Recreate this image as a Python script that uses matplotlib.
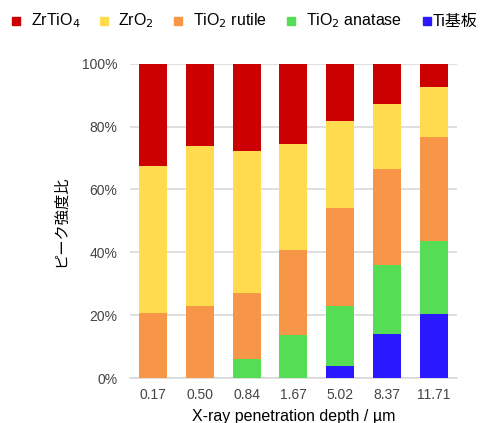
import matplotlib.pyplot as plt
from matplotlib.patches import Rectangle
import numpy as np

plt.rcParams['font.family'] = ['Liberation Sans', 'Noto Sans CJK JP', 'DejaVu Sans']

depths = ['0.17', '0.50', '0.84', '1.67', '5.02', '8.37', '11.71']
ti_sub = [0, 0, 0, 0, 3.9, 14.0, 20.4]
anatase = [0, 0, 6.2, 13.7, 19.1, 22.0, 23.2]
rutile = [20.6, 23.0, 21.0, 27.0, 31.1, 30.5, 33.0]
zro2 = [46.9, 50.7, 44.9, 33.9, 27.6, 20.6, 16.1]
zrtio4 = [32.5, 26.3, 27.9, 25.4, 18.3, 12.9, 7.3]

series = [
    ('ZrTiO$_4$', zrtio4, '#cc0000'),
    ('ZrO$_2$', zro2, '#ffdb4d'),
    ('TiO$_2$ rutile', rutile, '#f79646'),
    ('TiO$_2$ anatase', anatase, '#55dd55'),
    ('Ti基板', ti_sub, '#2a18ff'),
]

W, H = 485, 423
fig = plt.figure(figsize=(4.85, 4.23), dpi=100)
ax = fig.add_axes([0.268, 0.1057, 0.674, 0.744])

x = np.arange(len(depths))
bottom = np.zeros(len(depths))
# draw from the bottom of the stack upward
for name, vals, col in series[::-1]:
    vals = np.array(vals, dtype=float)
    ax.bar(x, vals, 0.6, bottom=bottom, color=col, zorder=3)
    bottom += vals

ax.set_xlim(-0.5, len(depths) - 0.5)
ax.set_ylim(0, 100)
ax.set_yticks(np.arange(0, 101, 20))
ax.set_yticklabels([f'{v}%' for v in range(0, 101, 20)])
ax.set_xticks(x)
ax.set_xticklabels(depths)
ax.yaxis.grid(True, color='#d9d9d9', lw=1.2, zorder=0)
for s in ['top', 'right', 'left']:
    ax.spines[s].set_visible(False)
ax.spines['bottom'].set_color('#d9d9d9')
ax.spines['bottom'].set_linewidth(1.2)
ax.tick_params(length=0, labelsize=10, colors='#444444', pad=7)
ax.tick_params(axis='y', pad=9)

ax.set_xlabel('X-ray penetration depth / µm', fontsize=11.5, labelpad=5)
ax.set_ylabel('ピーク強度比', fontsize=11, labelpad=10)

# legend row across the top, placed by hand (pixel positions)
sq_x = [12, 100, 174, 287, 423]
txt_x = [31, 118, 193, 306, 433]
leg_y = 21
for (name, vals, col), sx, tx in zip(series, sq_x, txt_x):
    fig.patches.append(Rectangle((sx / W, 1 - (leg_y + 4) / H), 8 / W, 8 / H,
                                 transform=fig.transFigure, color=col))
    fig.text(tx / W, 1 - leg_y / H, name, fontsize=11.5, va='center', ha='left')

fig.savefig('out.png', dpi=100)
